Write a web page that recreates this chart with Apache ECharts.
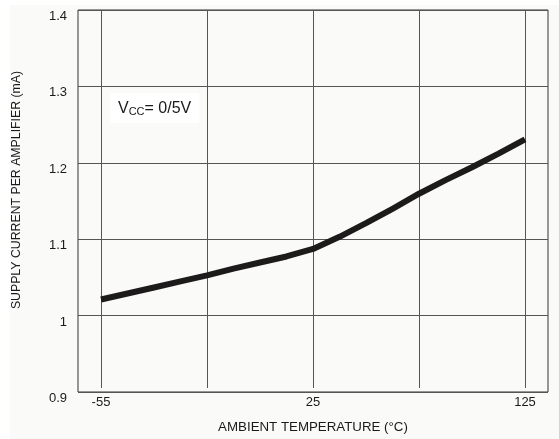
<!DOCTYPE html>
<html>
<head>
<meta charset="utf-8">
<script src="https://cdn.jsdelivr.net/npm/echarts@6/dist/echarts.min.js"></script>
<style>
html,body{margin:0;padding:0;background:#ffffff;}
#bg{position:absolute;left:10px;top:5px;width:549px;height:434px;background:#fafaf8;}
#chart{position:absolute;left:0;top:0;width:559px;height:439px;}
</style>
</head>
<body>
<div id="bg"></div>
<div id="chart"></div>
<script>
// Temperature categories (°C) as placed on the original, non-uniform axis
const temperatures = ['-55','-45','-35','-25','-15','-5','5','15','25','37.5','50','62.5','75','87.5','100','112.5','125'];
// Supply current per amplifier (mA), VCC = 0/5V
const supplyCurrent = [1.017,1.025,1.033,1.041,1.049,1.058,1.066,1.074,1.084,1.100,1.118,1.137,1.157,1.175,1.192,1.210,1.229];
const shownTempLabels = ['-55','25','125'];
const yMin = 0.9, yMax = 1.4, yStep = 0.1;

const font = 'Liberation Sans, Arial, Helvetica, sans-serif';
const chart = echarts.init(document.getElementById('chart'), null, {renderer:'canvas'});
chart.setOption({
  backgroundColor: 'transparent',
  animation: false,
  grid: [
    {left:78, right:11, top:10, bottom:47, show:true, borderColor:'#333', borderWidth:1, backgroundColor:'transparent'},
    {left:101, right:34, top:10, bottom:47}
  ],
  xAxis: [
    {gridIndex:0, type:'value', min:0, max:1, show:false},
    {gridIndex:1, type:'category', data:temperatures, boundaryGap:false,
     axisLine:{show:false}, axisTick:{show:false},
     axisLabel:{interval:7, margin:8, color:'#1a1a1a', fontSize:13, fontFamily:font,
       formatter: v => shownTempLabels.includes(v) ? v : ''},
     splitLine:{show:true, interval:3, lineStyle:{color:'#555', width:1}},
     name:'AMBIENT TEMPERATURE (°C)', nameLocation:'middle', nameGap:33,
     nameTextStyle:{color:'#1a1a1a', fontSize:13.3, fontFamily:font}}
  ],
  yAxis: [
    {gridIndex:0, type:'value', min:yMin, max:yMax, interval:yStep,
     axisLine:{show:false}, axisTick:{show:false},
     axisLabel:{margin:11, color:'#1a1a1a', fontSize:13, fontFamily:font, verticalAlign:'top',
       formatter: v => String(Math.round(v*10)/10)},
     splitLine:{show:true, lineStyle:{color:'#555', width:1}},
     name:'SUPPLY CURRENT PER AMPLIFIER (mA)', nameLocation:'middle', nameGap:55, nameRotate:90,
     nameTextStyle:{color:'#1a1a1a', fontSize:12.3, fontFamily:font, padding:[0,0,0,22]}},
    {gridIndex:1, type:'value', min:yMin, max:yMax, show:false}
  ],
  graphic: [
    {type:'text', left:110, top:93, z:10,
     style:{
       text:'{a|V}{b|CC}{a|= 0/5V}',
       backgroundColor:'#ffffff', padding:[7,8,6,8],
       rich:{
         a:{fontSize:16, fontFamily:font, fill:'#1a1a1a', color:'#1a1a1a'},
         b:{fontSize:11, fontFamily:font, fill:'#1a1a1a', color:'#1a1a1a', padding:[6,0,0,0]}
       }
     }}
  ],
  series: [
    {type:'line', xAxisIndex:1, yAxisIndex:1, data:supplyCurrent, smooth:false,
     showSymbol:false, symbol:'none',
     lineStyle:{color:'#1c1a1a', width:6, cap:'butt', join:'round'}, z:5}
  ]
});
</script>
</body>
</html>
